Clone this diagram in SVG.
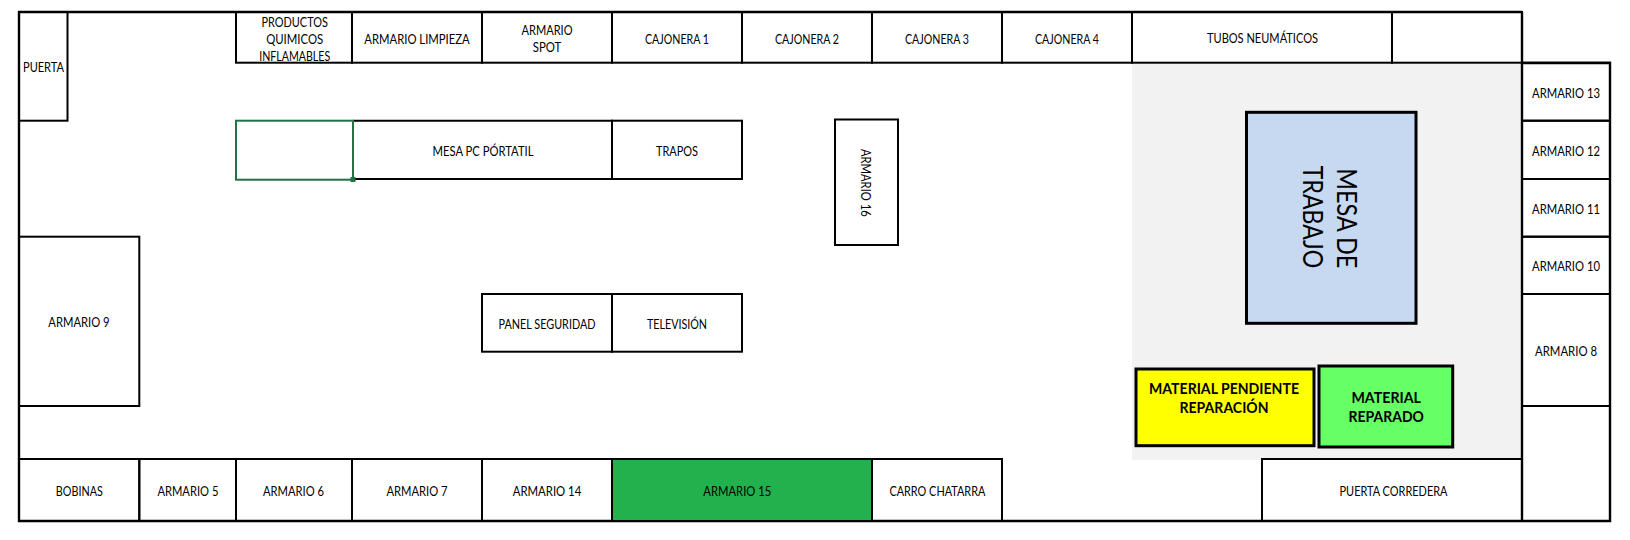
<svg xmlns="http://www.w3.org/2000/svg" width="1630" height="540" viewBox="0 0 1630 540">
<style>
.c{fill:none;stroke:#000;stroke-width:2}
.f{stroke:#000;stroke-width:2}
.k{stroke:#000;stroke-width:3}
.w{fill:none;stroke:#000;stroke-width:2.4}
text{font-family:"Lato","Liberation Sans",sans-serif;font-size:12.5px;fill:#000;text-anchor:middle;dominant-baseline:central}
.b{font-weight:700;font-size:15px}
.r{font-size:14px}
.m{font-size:26px}
</style>
<rect width="1630" height="540" fill="#fff"/>
<rect id="zona-trabajo" x="1132" y="63" width="390" height="397" fill="#f2f2f2"/>
<g id="walls"><path class="w" d="M1522 12H19V521H1610V63H1522M1522 12V521"/></g>
<g id="puerta"><rect class="c" x="19" y="12" width="48.500" height="108.700"/><text x="43.500" y="67" textLength="41" lengthAdjust="spacingAndGlyphs">PUERTA</text></g>
<g id="productos"><rect class="c" x="236" y="12" width="116" height="50.700"/><text x="294.700" y="22" textLength="66.500" lengthAdjust="spacingAndGlyphs">PRODUCTOS</text><text x="294.700" y="39" textLength="57" lengthAdjust="spacingAndGlyphs">QUIMICOS</text><text x="294.700" y="56" textLength="71" lengthAdjust="spacingAndGlyphs">INFLAMABLES</text></g>
<g id="armario-limpieza"><rect class="c" x="352" y="12" width="130" height="50.700"/><text x="417" y="39" textLength="105.500" lengthAdjust="spacingAndGlyphs">ARMARIO LIMPIEZA</text></g>
<g id="armario-spot"><rect class="c" x="482" y="12" width="130" height="50.700"/><text x="547" y="30" textLength="51" lengthAdjust="spacingAndGlyphs">ARMARIO</text><text x="547" y="47.300" textLength="28.600" lengthAdjust="spacingAndGlyphs">SPOT</text></g>
<g id="cajonera-1"><rect class="c" x="612" y="12" width="130" height="50.700"/><text x="677" y="39" textLength="64" lengthAdjust="spacingAndGlyphs">CAJONERA 1</text></g>
<g id="cajonera-2"><rect class="c" x="742" y="12" width="130" height="50.700"/><text x="807" y="39" textLength="64" lengthAdjust="spacingAndGlyphs">CAJONERA 2</text></g>
<g id="cajonera-3"><rect class="c" x="872" y="12" width="130" height="50.700"/><text x="937" y="39" textLength="64" lengthAdjust="spacingAndGlyphs">CAJONERA 3</text></g>
<g id="cajonera-4"><rect class="c" x="1002" y="12" width="130" height="50.700"/><text x="1067" y="39" textLength="64" lengthAdjust="spacingAndGlyphs">CAJONERA 4</text></g>
<g id="tubos"><rect class="c" x="1132" y="12" width="260" height="50.700"/><text x="1262.500" y="38" textLength="111" lengthAdjust="spacingAndGlyphs">TUBOS NEUMÁTICOS</text></g>
<g id="vacio-superior"><rect class="c" x="1392" y="12" width="130" height="50.700"/></g>
<g id="mesa-pc"><path class="c" d="M353 120.700H612V179H353"/><text x="483" y="151" textLength="101" lengthAdjust="spacingAndGlyphs">MESA PC PÓRTATIL</text></g>
<g id="trapos"><rect class="c" x="612" y="120.700" width="130" height="58.300"/><text x="677" y="151" textLength="42" lengthAdjust="spacingAndGlyphs">TRAPOS</text></g>
<g id="celda-seleccionada"><rect x="236" y="120.700" width="117" height="59" fill="none" stroke="#217346" stroke-width="2"/><rect x="350.500" y="177" width="5" height="5" fill="#217346"/></g>
<g id="armario-16"><rect class="c" x="835" y="119.500" width="63" height="125.500"/><text class="r" transform="translate(866 182.800) rotate(90)" textLength="67.700" lengthAdjust="spacingAndGlyphs">ARMARIO 16</text></g>
<g id="armario-9"><rect class="c" x="19" y="236.700" width="120.300" height="169.300"/><text x="79" y="322.300" textLength="61.300" lengthAdjust="spacingAndGlyphs">ARMARIO 9</text></g>
<g id="panel-seguridad"><rect class="c" x="482" y="294" width="130" height="57.700"/><text x="547" y="324" textLength="97" lengthAdjust="spacingAndGlyphs">PANEL SEGURIDAD</text></g>
<g id="television"><rect class="c" x="612" y="294" width="130" height="57.700"/><text x="677" y="324" textLength="60" lengthAdjust="spacingAndGlyphs">TELEVISIÓN</text></g>
<g id="mesa-trabajo"><rect class="k" x="1246.500" y="112.300" width="169.500" height="211" fill="#c6d9f0"/><text class="m" transform="translate(1346.700 218.300) rotate(90)" textLength="100" lengthAdjust="spacingAndGlyphs">MESA DE</text><text class="m" transform="translate(1312.500 217) rotate(90)" textLength="102.300" lengthAdjust="spacingAndGlyphs">TRABAJO</text></g>
<g id="material-pendiente"><rect class="k" x="1136" y="369" width="178" height="76.700" fill="#ffff00"/><text class="b" x="1224" y="388" textLength="150" lengthAdjust="spacingAndGlyphs">MATERIAL PENDIENTE</text><text class="b" x="1224" y="407" textLength="89" lengthAdjust="spacingAndGlyphs">REPARACIÓN</text></g>
<g id="material-reparado"><rect class="k" x="1319" y="366" width="133.700" height="81" fill="#66ff66"/><text class="b" x="1386.200" y="397" textLength="69.600" lengthAdjust="spacingAndGlyphs">MATERIAL</text><text class="b" x="1386.200" y="416" textLength="75.400" lengthAdjust="spacingAndGlyphs">REPARADO</text></g>
<g id="armario-13"><rect class="c" x="1522" y="62.700" width="88" height="58"/><text x="1566" y="93" textLength="68" lengthAdjust="spacingAndGlyphs">ARMARIO 13</text></g>
<g id="armario-12"><rect class="c" x="1522" y="120.700" width="88" height="58.300"/><text x="1566" y="151" textLength="68" lengthAdjust="spacingAndGlyphs">ARMARIO 12</text></g>
<g id="armario-11"><rect class="c" x="1522" y="179" width="88" height="57.700"/><text x="1566" y="209" textLength="68" lengthAdjust="spacingAndGlyphs">ARMARIO 11</text></g>
<g id="armario-10"><rect class="c" x="1522" y="236.700" width="88" height="57.300"/><text x="1566" y="266.500" textLength="68" lengthAdjust="spacingAndGlyphs">ARMARIO 10</text></g>
<g id="armario-8"><rect class="c" x="1522" y="294" width="88" height="112"/><text x="1566" y="351" textLength="62" lengthAdjust="spacingAndGlyphs">ARMARIO 8</text></g>
<g id="bobinas"><rect class="c" x="19" y="459" width="120.300" height="62"/><text x="79.300" y="491" textLength="47" lengthAdjust="spacingAndGlyphs">BOBINAS</text></g>
<g id="armario-5"><rect class="c" x="139.300" y="459" width="96.700" height="62"/><text x="187.900" y="491" textLength="61" lengthAdjust="spacingAndGlyphs">ARMARIO 5</text></g>
<g id="armario-6"><rect class="c" x="236" y="459" width="116" height="62"/><text x="293.500" y="491" textLength="61" lengthAdjust="spacingAndGlyphs">ARMARIO 6</text></g>
<g id="armario-7"><rect class="c" x="352" y="459" width="130" height="62"/><text x="417" y="491" textLength="61" lengthAdjust="spacingAndGlyphs">ARMARIO 7</text></g>
<g id="armario-14"><rect class="c" x="482" y="459" width="130" height="62"/><text x="547" y="491" textLength="68.600" lengthAdjust="spacingAndGlyphs">ARMARIO 14</text></g>
<g id="armario-15"><rect class="f" x="612" y="459" width="260" height="62" fill="#22b14c"/><text x="737.300" y="491" textLength="68" lengthAdjust="spacingAndGlyphs">ARMARIO 15</text></g>
<g id="carro-chatarra"><rect class="c" x="872" y="459" width="130" height="62"/><text x="937.400" y="491" textLength="96" lengthAdjust="spacingAndGlyphs">CARRO CHATARRA</text></g>
<g id="puerta-corredera"><rect class="c" x="1262" y="459" width="260" height="62"/><text x="1393.500" y="491" textLength="108" lengthAdjust="spacingAndGlyphs">PUERTA CORREDERA</text></g>
</svg>
